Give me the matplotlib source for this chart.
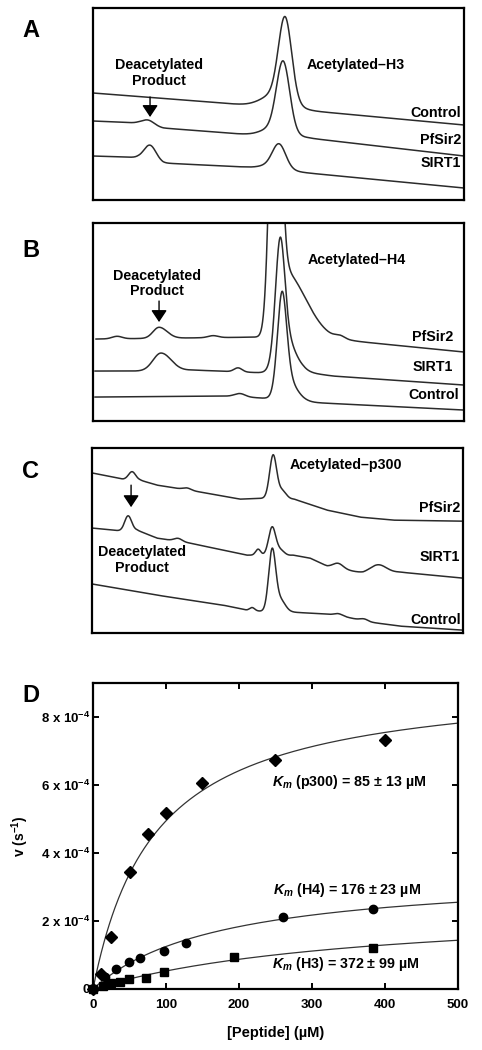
import numpy as np
import matplotlib.pyplot as plt

plt.rcParams['font.family'] = ['Liberation Sans', 'DejaVu Sans']
plt.rcParams['font.weight'] = 'bold'
plt.rcParams['axes.labelweight'] = 'bold'
plt.rcParams['mathtext.fontset'] = 'custom'
plt.rcParams['mathtext.rm'] = 'Liberation Sans:bold'
plt.rcParams['mathtext.it'] = 'Liberation Sans:italic:bold'
plt.rcParams['mathtext.bf'] = 'Liberation Sans:bold'

# Chromatograms: retention position vs detector signal (arbitrary units)
# baseline knots (position, signal) and peaks (centre, height, sigma left, sigma right)
a_control_base = [(0, 107), (160, 94.5), (371, 75)]
a_control_peaks = [(192, 80, 6.5, 6.5), (184, 14, 14, 14)]
a_pfsir2_base = [(0, 79), (45, 77), (70, 72), (160, 65), (215, 62), (371, 44)]
a_pfsir2_peaks = [(55, 5, 6, 6), (190, 68, 6.5, 6.5), (183, 9, 13, 13)]
a_sirt1_base = [(0, 44), (45, 42.5), (70, 37), (150, 33), (215, 27), (371, 12)]
a_sirt1_peaks = [(57, 15, 6, 6), (186, 22, 6.5, 6.5), (181, 5, 12, 12)]

b_pfsir2_base = [(3, 82), (170, 84), (260, 80), (371, 69)]
b_pfsir2_peaks = [(24, 2.5, 5, 5), (66, 11, 6, 8), (120, 2, 5, 5),
                  (182, 350, 5, 5), (190, 68, 5, 22), (247, 3, 5, 5)]
b_sirt1_base = [(2, 50), (70, 50), (100, 51), (175, 48), (210, 49), (240, 45), (371, 36)]
b_sirt1_peaks = [(68, 18, 8, 10), (145, 4, 4, 4), (187, 95, 4.5, 4.5), (189, 42, 7, 11)]
b_control_base = [(2, 24), (140, 25), (175, 22.5), (210, 19), (371, 11)]
b_control_peaks = [(147, 3, 5, 5), (189, 82, 4.5, 4.5), (190, 27, 6, 11)]

c_pfsir2_base = [(1, 160), (31, 154), (48, 153), (65, 148), (115, 140), (148, 134),
                 (175, 135), (202, 134), (235, 123), (268, 116), (301, 113), (369, 112)]
c_pfsir2_peaks = [(40, 8, 3.5, 3.5), (95, 2, 4, 4), (181, 43, 3.5, 3.5), (190, 8, 4, 4)]
c_sirt1_base = [(1, 105), (31, 102), (45, 103), (65, 95), (98, 90), (131, 83), (155, 78),
                (175, 78), (188, 77), (201, 78), (218, 75), (235, 67), (271, 60), (308, 61), (371, 55)]
c_sirt1_peaks = [(36, 15, 3.5, 3.5), (86, 3, 4, 4), (166, 6, 2.5, 2.5), (180, 28, 3.5, 3.5),
                 (188, 6, 4, 4), (246, 5, 5, 5), (286, 8, 8, 8)]
c_control_base = [(1, 49), (65, 38), (131, 28), (155, 23), (168, 22), (200, 21), (235, 19),
                  (250, 17), (278, 11), (308, 7), (371, 3)]
c_control_peaks = [(160, 3, 2.5, 2.5), (180, 60, 3.5, 3.5), (188, 12, 5, 5),
                   (246, 2, 4, 4), (272, 2, 4, 4)]

# Kinetics (panel D): peptide concentration (uM) and rate (1e-4 s^-1)
p300_conc = [0, 11, 25, 50, 75, 100, 150, 250, 400]
p300_rate = [0, 0.43, 1.52, 3.43, 4.56, 5.19, 6.05, 6.74, 7.31]
h4_conc = [0, 16, 32, 49, 65, 97, 128, 260, 384]
h4_rate = [0, 0.36, 0.59, 0.80, 0.92, 1.13, 1.34, 2.13, 2.36]
h3_conc = [0, 13, 25, 37, 49, 73, 97, 193, 384]
h3_rate = [0, 0.10, 0.19, 0.22, 0.30, 0.31, 0.49, 0.95, 1.22]
# Michaelis-Menten fit parameters: Km (uM), Vmax (1e-4 s^-1)
p300_km, p300_vmax = 85, 9.15
h4_km, h4_vmax = 176, 3.45
h3_km, h3_vmax = 372, 2.50


def trace(base, peaks):
    bx, by = zip(*base)
    x = np.linspace(bx[0], bx[-1], 1500)
    y = np.interp(x, bx, by)
    for c, h, sl, sr in peaks:
        s = np.where(x < c, sl, sr)
        y = y + h * np.exp(-0.5 * ((x - c) / s) ** 2)
    return x, y


def chrom_panel(rect, height, traces):
    ax = fig.add_axes(rect)
    for base, peaks in traces:
        x, y = trace(base, peaks)
        ax.plot(x, y, color='#2b2b2b', lw=1.1)
    ax.set_xlim(0, 371)
    ax.set_ylim(0, height)
    ax.set_xticks([])
    ax.set_yticks([])
    for s in ax.spines.values():
        s.set_linewidth(1.6)
    return ax


def arrow(ax, x, y0, y1):
    ax.annotate('', xy=(x, y1), xytext=(x, y0),
                arrowprops=dict(arrowstyle='-|>,head_length=0.6,head_width=0.4',
                                color='black', lw=1, shrinkA=0, shrinkB=0,
                                mutation_scale=12))


fig = plt.figure(figsize=(4.82, 10.5), dpi=100)
fs = 10.3

# Panel A
ax = chrom_panel([0.193, 0.8095, 0.770, 0.1829], 192,
                 [(a_control_base, a_control_peaks), (a_pfsir2_base, a_pfsir2_peaks),
                  (a_sirt1_base, a_sirt1_peaks)])
ax.text(66, 127, 'Deacetylated\nProduct', ha='center', va='center', fontsize=fs, linespacing=1.15)
ax.text(214, 135, 'Acetylated\u2013H3', ha='left', va='center', fontsize=fs)
ax.text(368, 87, 'Control', ha='right', va='center', fontsize=fs)
ax.text(368, 60, 'PfSir2', ha='right', va='center', fontsize=fs)
ax.text(368, 37, 'SIRT1', ha='right', va='center', fontsize=fs)
arrow(ax, 57, 103, 83)

# Panel B
ax = chrom_panel([0.193, 0.599, 0.770, 0.1886], 198,
                 [(b_pfsir2_base, b_pfsir2_peaks), (b_sirt1_base, b_sirt1_peaks),
                  (b_control_base, b_control_peaks)])
ax.text(64, 137.5, 'Deacetylated\nProduct', ha='center', va='center', fontsize=fs, linespacing=1.15)
ax.text(215, 161, 'Acetylated\u2013H4', ha='left', va='center', fontsize=fs)
ax.text(360, 84, 'PfSir2', ha='right', va='center', fontsize=fs)
ax.text(360, 54, 'SIRT1', ha='right', va='center', fontsize=fs)
ax.text(366, 26, 'Control', ha='right', va='center', fontsize=fs)
arrow(ax, 66, 120, 99)

# Panel C
ax = chrom_panel([0.191, 0.397, 0.770, 0.1762], 185,
                 [(c_pfsir2_base, c_pfsir2_peaks), (c_sirt1_base, c_sirt1_peaks),
                  (c_control_base, c_control_peaks)])
ax.text(50, 73, 'Deacetylated\nProduct', ha='center', va='center', fontsize=fs, linespacing=1.15)
ax.text(198, 168, 'Acetylated\u2013p300', ha='left', va='center', fontsize=fs)
ax.text(368, 125, 'PfSir2', ha='right', va='center', fontsize=fs)
ax.text(368, 76, 'SIRT1', ha='right', va='center', fontsize=fs)
ax.text(369, 13, 'Control', ha='right', va='center', fontsize=fs)
arrow(ax, 39, 148, 126)

# Panel D
ax = fig.add_axes([0.193, 0.0581, 0.757, 0.2914])
xf = np.linspace(0, 500, 400)
for km, vmax in [(p300_km, p300_vmax), (h4_km, h4_vmax), (h3_km, h3_vmax)]:
    ax.plot(xf, vmax * 1e-4 * xf / (km + xf), color='#333333', lw=0.9)
ax.plot(p300_conc, np.array(p300_rate) * 1e-4, 'D', color='black', ms=6, clip_on=False)
ax.plot(h4_conc, np.array(h4_rate) * 1e-4, 'o', color='black', ms=6, clip_on=False)
ax.plot(h3_conc, np.array(h3_rate) * 1e-4, 's', color='black', ms=5.5, clip_on=False)
ax.set_xlim(0, 500)
ax.set_ylim(0, 9e-4)
ax.set_xticks([0, 100, 200, 300, 400, 500])
ax.set_xticklabels(['0', '100', '200', '300', '400', '500'], fontsize=9.5, fontweight='bold')
ax.set_yticks([0, 2e-4, 4e-4, 6e-4, 8e-4])
ax.set_yticklabels(['0', '2 x 10$^{-4}$', '4 x 10$^{-4}$', '6 x 10$^{-4}$', '8 x 10$^{-4}$'],
                   fontsize=9.5, fontweight='bold')
ax.tick_params(direction='in', top=True, right=True, length=4.3, width=1.4)
ax.tick_params(axis='x', pad=7)
ax.tick_params(axis='y', pad=2)
for s in ax.spines.values():
    s.set_linewidth(1.6)
ax.set_xlabel('[Peptide] (\u00b5M)', fontsize=10.5, fontweight='bold', labelpad=11)
ax.set_ylabel('v (s$^{-1}$)', fontsize=10, fontweight='bold', labelpad=7)
ax.text(245, 6.1e-4, '$K_m$ (p300) = 85 \u00b1 13 \u00b5M', ha='left', va='center', fontsize=fs)
ax.text(247, 2.92e-4, '$K_m$ (H4) = 176 \u00b1 23 \u00b5M', ha='left', va='center', fontsize=fs)
ax.text(245, 0.73e-4, '$K_m$ (H3) = 372 \u00b1 99 \u00b5M', ha='left', va='center', fontsize=fs)

# panel letters
for letter, yy in [('A', 0.971), ('B', 0.761), ('C', 0.5505), ('D', 0.338)]:
    fig.text(0.064, yy, letter, ha='center', va='center', fontsize=17, fontweight='bold')

fig.savefig('out.png', dpi=100)
